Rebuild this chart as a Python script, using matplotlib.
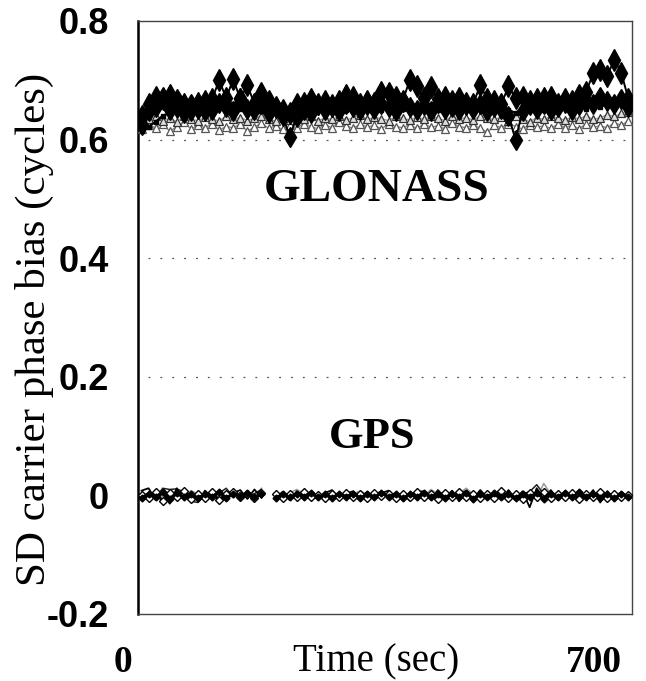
import numpy as np
import matplotlib
matplotlib.use("Agg")
import matplotlib.pyplot as plt

nan = np.nan
TIME = np.arange(5, 700, 10)  # seconds

# GLONASS single-difference biases (cycles)
GLO_D1 = [0.640, 0.660, 0.672, 0.668, 0.675, 0.655, 0.660, 0.650, 0.662, 0.665,
          0.668, 0.700, 0.670, 0.702, 0.668, 0.692, 0.660, 0.678, 0.665, 0.655,
          0.650, 0.645, 0.660, 0.662, 0.668, 0.660, 0.665, 0.658, 0.665, 0.675,
          0.672, 0.660, 0.665, 0.662, 0.680, 0.678, 0.672, 0.665, 0.700, 0.690,
          0.670, 0.688, 0.668, 0.672, 0.665, 0.670, 0.662, 0.660, 0.692, 0.668,
          0.665, 0.660, 0.690, 0.670, 0.672, 0.665, 0.668, 0.670, 0.672, 0.660,
          0.668, 0.665, 0.675, 0.680, 0.712, 0.718, 0.708, 0.735, 0.712, 0.668]
GLO_D2 = [0.625, 0.648, 0.655, 0.672, 0.650, 0.668, 0.645, 0.660, 0.652, 0.648,
          0.650, 0.662, 0.655, 0.648, 0.670, 0.652, 0.650, 0.660, 0.645, 0.655,
          0.640, 0.605, 0.638, 0.650, 0.645, 0.658, 0.650, 0.655, 0.648, 0.660,
          0.655, 0.650, 0.658, 0.652, 0.660, 0.655, 0.648, 0.665, 0.655, 0.650,
          0.658, 0.648, 0.662, 0.652, 0.655, 0.650, 0.658, 0.652, 0.660, 0.648,
          0.655, 0.652, 0.640, 0.600, 0.648, 0.658, 0.652, 0.660, 0.650, 0.655,
          0.662, 0.650, 0.658, 0.665, 0.660, 0.672, 0.665, 0.660, 0.668, 0.655]
GLO_T1 = [0.617, 0.624, 0.620, 0.627, 0.614, 0.622, 0.630, 0.618, 0.624, 0.620,
          0.627, 0.616, 0.622, 0.620, 0.626, 0.614, 0.621, 0.628, 0.619, 0.623,
          0.617, 0.624, 0.620, 0.627, 0.622, 0.618, 0.625, 0.620, 0.630, 0.623,
          0.619, 0.626, 0.621, 0.624, 0.618, 0.627, 0.622, 0.620, 0.625, 0.619,
          0.626, 0.621, 0.623, 0.618, 0.628, 0.622, 0.620, 0.625, 0.619, 0.612,
          0.624, 0.620, 0.627, 0.622, 0.618, 0.625, 0.621, 0.623, 0.619, 0.626,
          0.620, 0.624, 0.618, 0.627, 0.621, 0.623, 0.620, 0.628, 0.624, 0.632]
GLO_T2 = [0.629, 0.634, 0.639, 0.632, 0.636, 0.630, 0.639, 0.634, 0.632, 0.638,
          0.635, 0.631, 0.640, 0.634, 0.637, 0.632, 0.636, 0.639, 0.634, 0.631,
          0.637, 0.633, 0.638, 0.635, 0.639, 0.632, 0.636, 0.634, 0.640, 0.633,
          0.637, 0.642, 0.634, 0.638, 0.635, 0.632, 0.639, 0.636, 0.633, 0.638,
          0.634, 0.640, 0.636, 0.632, 0.639, 0.635, 0.637, 0.633, 0.640, 0.636,
          0.634, 0.638, 0.632, 0.639, 0.635, 0.630, 0.637, 0.634, 0.639, 0.636,
          0.633, 0.638, 0.635, 0.640, 0.634, 0.637, 0.642, 0.639, 0.644, 0.646]
GLO_L1 = [0.615, 0.622, 0.630, 0.640, 0.645, 0.650, 0.642, 0.648, 0.652, 0.645,
          0.650, 0.655, 0.648, 0.660, 0.652, 0.650, 0.656, 0.648, 0.653, 0.650,
          0.645, 0.640, 0.648, 0.655, 0.650, 0.653, 0.648, 0.656, 0.651, 0.650,
          0.654, 0.648, 0.652, 0.657, 0.650, 0.653, 0.658, 0.651, 0.655, 0.650,
          0.653, 0.657, 0.650, 0.654, 0.652, 0.656, 0.650, 0.655, 0.652, 0.658,
          0.651, 0.654, 0.650, 0.645, 0.652, 0.656, 0.653, 0.650, 0.657, 0.652,
          0.655, 0.650, 0.656, 0.652, 0.658, 0.655, 0.660, 0.657, 0.662, 0.660]

# GPS single-difference biases (cycles)
GPS_1 = [0.000, -0.005, 0.006, -0.010, 0.004, -0.002, 0.008, -0.006, 0.002, -0.004,
         0.005, -0.008, 0.003, 0.006, -0.003, 0.002, -0.005, 0.004, nan, 0.003,
         -0.004, 0.002, -0.002, 0.005, -0.003, 0.001, -0.004, 0.003, -0.002, 0.004,
         -0.003, 0.002, -0.005, 0.004, -0.001, 0.003, -0.004, 0.002, -0.003, 0.005,
         -0.002, 0.003, -0.006, 0.004, -0.002, 0.006, -0.003, 0.002, -0.004, 0.003,
         -0.005, 0.008, -0.004, 0.002, -0.006, 0.004, -0.003, 0.005, -0.004, 0.003,
         -0.002, 0.004, -0.006, 0.003, -0.002, 0.005, -0.004, 0.002, -0.003, 0.001]
GPS_2 = [0.008, 0.012, -0.008, 0.004, -0.014, 0.012, -0.006, 0.005, -0.010, 0.008,
         -0.004, 0.006, -0.008, 0.004, 0.009, -0.006, 0.010, -0.004, nan, -0.005,
         0.006, -0.008, 0.007, -0.003, 0.006, -0.007, 0.004, 0.009, -0.006, 0.003,
         0.007, -0.005, 0.006, -0.007, 0.004, 0.008, -0.006, 0.004, -0.009, 0.006,
         0.007, -0.007, 0.009, -0.004, 0.008, -0.010, 0.007, -0.006, 0.009, -0.004,
         0.006, -0.007, 0.009, -0.006, 0.007, -0.020, 0.012, -0.007, 0.009, -0.008,
         0.007, -0.004, 0.008, -0.006, 0.009, -0.012, 0.007, -0.009, 0.006, -0.004]
GPS_3 = [-0.008, 0.003, -0.004, 0.012, 0.010, 0.011, 0.006, -0.010, -0.012, 0.002,
         -0.006, 0.004, 0.012, -0.003, 0.005, -0.002, 0.003, 0.010, nan, 0.001,
         0.004, -0.003, 0.002, 0.005, -0.002, 0.003, -0.001, 0.004, -0.003, 0.002,
         -0.002, 0.004, -0.001, 0.003, 0.006, -0.002, 0.003, -0.004, 0.004, -0.001,
         0.002, -0.003, 0.004, 0.002, -0.005, 0.003, 0.008, -0.002, 0.004, -0.003,
         0.006, -0.004, 0.002, -0.008, 0.003, 0.006, 0.018, 0.002, -0.004, 0.005,
         -0.003, 0.004, -0.002, 0.003, -0.008, 0.002, 0.004, -0.003, 0.003, 0.000]
GPS_4 = [0.002, -0.004, 0.004, -0.002, 0.006, 0.003, -0.004, 0.008, 0.002, -0.003,
         0.004, -0.002, 0.003, -0.004, 0.002, 0.003, -0.002, 0.012, nan, 0.002,
         -0.003, 0.004, 0.010, 0.003, -0.002, 0.004, -0.003, 0.005, 0.002, -0.002,
         0.003, 0.007, 0.002, -0.003, 0.004, -0.002, 0.003, 0.002, -0.004, 0.006,
         -0.002, 0.010, 0.002, 0.006, -0.002, 0.003, 0.012, 0.002, -0.003, 0.004,
         0.002, 0.006, -0.002, 0.004, 0.002, 0.003, -0.004, 0.020, 0.002, 0.004,
         -0.003, 0.006, -0.002, 0.003, -0.006, 0.004, -0.002, 0.005, 0.002, -0.001]
GPS_5 = [-0.004, 0.003, -0.002, 0.005, -0.006, 0.004, -0.003, 0.002, -0.005, 0.003,
         -0.002, 0.006, -0.004, 0.003, -0.002, 0.004, -0.003, 0.002, nan, -0.004,
         0.002, -0.003, 0.003, -0.002, 0.004, -0.003, 0.002, -0.004, 0.003, -0.002,
         0.003, -0.004, 0.002, -0.003, 0.004, -0.002, 0.003, -0.005, 0.002, -0.003,
         0.004, -0.002, 0.003, -0.004, 0.002, -0.003, 0.004, -0.006, 0.003, -0.002,
         0.004, -0.003, 0.002, -0.004, 0.003, -0.002, 0.004, -0.006, 0.003, -0.002,
         0.004, -0.003, 0.005, -0.002, 0.003, -0.004, 0.002, -0.005, 0.003, -0.002]

Y_TICKS = [-0.2, 0, 0.2, 0.4, 0.6, 0.8]
Y_TICK_LABELS = ["-0.2", "0", "0.2", "0.4", "0.6", "0.8"]
X_TICKS = [0, 700]
X_TICK_LABELS = ["0", "700"]
GRID_LEVELS = [0.2, 0.4, 0.6]

serif = ["Liberation Serif", "DejaVu Serif"]
sans = ["Liberation Sans Narrow", "Liberation Sans", "DejaVu Sans"]

fig = plt.figure(figsize=(6.46, 6.81), dpi=100)
ax = fig.add_axes([0.2136, 0.0984, 0.7647, 0.8708])

for g in GRID_LEVELS:
    ax.axhline(g, xmin=0.02, xmax=0.99, color="#555555", lw=0.9,
               linestyle=(0, (1.5, 8)), zorder=1)

# GLONASS
ax.plot(TIME, GLO_T1, color="#888888", lw=1.0, marker="^", ms=6,
        mfc="white", mec="#555555", mew=0.9, zorder=3)
ax.plot(TIME, GLO_T2, color="#999999", lw=1.0, marker="^", ms=6,
        mfc="#dddddd", mec="#333333", mew=0.9, zorder=3)
ax.plot(TIME, GLO_L1, color="black", lw=1.6, marker="s", ms=3.5,
        mfc="black", mec="black", zorder=4)
ax.plot(TIME, GLO_D2, color="black", lw=1.4, marker="d", ms=10,
        mfc="black", mec="black", zorder=5)
ax.plot(TIME, GLO_D1, color="black", lw=1.4, marker="d", ms=11,
        mfc="black", mec="black", zorder=5)

# GPS
ax.plot(TIME, GPS_4, color="#999999", lw=1.1, zorder=3)
ax.plot(TIME, GPS_3, color="#222222", lw=1.1, zorder=3)
ax.plot(TIME, GPS_2, color="black", lw=1.3, zorder=4)
ax.plot(TIME, GPS_1, color="black", lw=2.0, marker="D", ms=4,
        mfc="white", mec="black", mew=1.0, zorder=4)
ax.plot(TIME, GPS_5, color="black", lw=2.0, marker="D", ms=3.5,
        mfc="black", mec="black", zorder=4)

ax.text(338, 0.515, "GLONASS", ha="center", va="center",
        family=serif, fontweight="bold", fontsize=34)
ax.text(332, 0.099, "GPS", ha="center", va="center",
        family=serif, fontweight="bold", fontsize=32)

ax.set_xlim(0, 700)
ax.set_ylim(-0.2, 0.8)
ax.set_yticks(Y_TICKS)
ax.set_yticklabels(Y_TICK_LABELS, family=sans, fontweight="bold", fontsize=26)
ax.tick_params(axis="y", length=0, pad=21)

# x tick labels drawn at the axis positions, nudged like the original
ax.set_xticks(X_TICKS)
ax.set_xticklabels([])
ax.tick_params(axis="x", length=0)
xoffs = [-4, -7]
for xv, lab, dx in zip(X_TICKS, X_TICK_LABELS, xoffs):
    ax.annotate(lab, xy=(xv, 0), xycoords=("data", "axes fraction"),
                xytext=(dx, -42), textcoords="offset points",
                ha="right", va="baseline", family=serif,
                fontweight="bold", fontsize=27)

ax.annotate("Time (sec)", xy=(337, 0), xycoords=("data", "axes fraction"),
            xytext=(0, -41), textcoords="offset points",
            ha="center", va="baseline", family=serif, fontsize=28)

ax.set_ylabel("SD carrier phase bias (cycles)", family=serif, fontsize=31)
ax.yaxis.set_label_coords(-0.17, 0.48)

for side in ["top", "right", "bottom"]:
    ax.spines[side].set_color("#444444")
    ax.spines[side].set_linewidth(1.0)
ax.spines["left"].set_color("black")
ax.spines["left"].set_linewidth(1.8)

fig.savefig("out.png", dpi=100)
